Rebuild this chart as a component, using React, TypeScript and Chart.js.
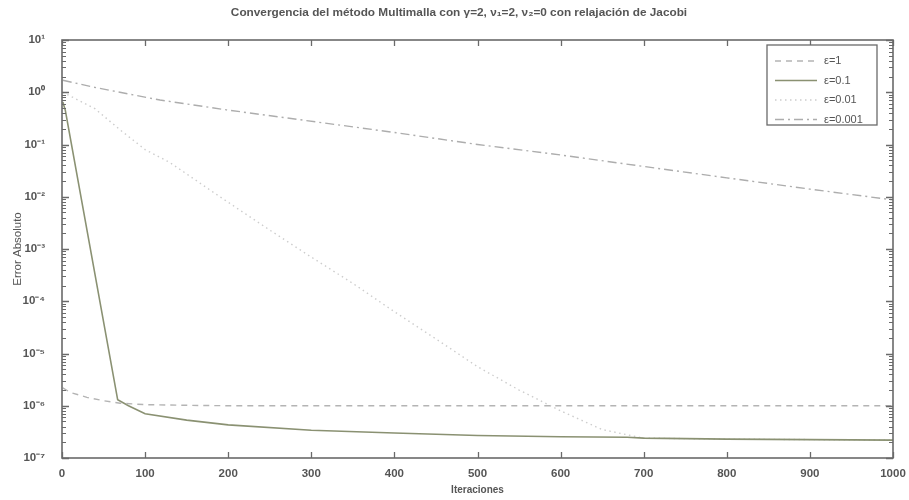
import React, { useEffect, useRef } from "react";
import { Chart, registerables } from "chart.js";

Chart.register(...registerables);

const TITLE = "Convergencia del método Multimalla con γ=2, ν₁=2, ν₂=0 con relajación de Jacobi";
const X_TITLE = "Iteraciones";
const Y_TITLE = "Error Absoluto";

const xTickValues = [0, 100, 200, 300, 400, 500, 600, 700, 800, 900, 1000];
const yTickValues = [1e-7, 1e-6, 1e-5, 1e-4, 1e-3, 1e-2, 1e-1, 1, 10];
const yTickLabels = ["10⁻⁷", "10⁻⁶", "10⁻⁵", "10⁻⁴", "10⁻³", "10⁻²", "10⁻¹", "10⁰", "10¹"];

const seriesLabels = ["ε=1", "ε=0.1", "ε=0.01", "ε=0.001"];

// ε=1 (dashed)
const eps1X = [1, 10, 30, 50, 70, 100, 150, 200, 300, 400, 500, 600, 700, 800, 900, 1000];
const eps1Y = [2.2e-6, 1.8e-6, 1.45e-6, 1.25e-6, 1.12e-6, 1.05e-6, 1.02e-6, 1.0e-6, 1.0e-6, 1.0e-6, 1.0e-6, 1.0e-6, 1.0e-6, 1.0e-6, 1.0e-6, 1.0e-6];

// ε=0.1 (solid)
const eps01X = [1, 4, 67, 80, 100, 150, 200, 300, 400, 500, 600, 680, 700, 800, 900, 1000];
const eps01Y = [0.65, 0.45, 1.3e-6, 1.0e-6, 7.0e-7, 5.3e-7, 4.3e-7, 3.4e-7, 3.0e-7, 2.7e-7, 2.55e-7, 2.5e-7, 2.4e-7, 2.3e-7, 2.25e-7, 2.2e-7];

// ε=0.01 (dotted)
const eps001X = [1, 20, 40, 70, 100, 130, 190, 250, 300, 350, 400, 450, 500, 550, 600, 650, 700, 800, 900, 1000];
const eps001Y = [1.0, 0.7, 0.48, 0.19, 0.08, 0.045, 0.01, 2.3e-3, 7e-4, 2.2e-4, 6.3e-5, 1.9e-5, 5.6e-6, 2.0e-6, 8e-7, 3.5e-7, 2.4e-7, 2.3e-7, 2.25e-7, 2.2e-7];

// ε=0.001 (dash-dot)
const eps0001X = [1, 37, 118, 198, 314, 400, 500, 600, 700, 800, 900, 1000];
const eps0001Y = [1.7, 1.26, 0.71, 0.46, 0.26, 0.17, 0.1, 0.063, 0.038, 0.023, 0.014, 0.0087];

const seriesColors = ["#b4b4b4", "#8a9172", "#cdcdcd", "#adadad"];
const seriesDashes = [[6, 5], [], [1.5, 3.5], [9, 4, 2, 4]];

const TEXT = "#555555";
const AXIS = "#6a6a6a";
const FONT = "'Liberation Sans', Arial, sans-serif";

const toPoints = (xs: number[], ys: number[]) => xs.map((x, i) => ({ x, y: ys[i] }));

const framePlugin = {
  id: "matlabFrame",
  afterDraw(chart: any) {
    const { ctx, chartArea } = chart;
    const { left, right, top, bottom } = chartArea;
    const xs = chart.scales.x;
    const ys = chart.scales.y;
    ctx.save();
    // title
    ctx.fillStyle = TEXT;
    ctx.font = `bold 11.8px ${FONT}`;
    ctx.textAlign = "center";
    ctx.textBaseline = "middle";
    ctx.fillText(TITLE, 459, 13);

    ctx.strokeStyle = AXIS;
    ctx.lineWidth = 1.3;
    ctx.setLineDash([]);
    ctx.beginPath();
    for (const v of xTickValues) {
      const p = Math.round(xs.getPixelForValue(v)) + 0.5;
      ctx.moveTo(p, bottom);
      ctx.lineTo(p, bottom - 6);
      ctx.moveTo(p, top);
      ctx.lineTo(p, top + 6);
    }
    for (const v of yTickValues) {
      const p = Math.round(ys.getPixelForValue(v)) + 0.5;
      ctx.moveTo(left, p);
      ctx.lineTo(left + 7, p);
      ctx.moveTo(right, p);
      ctx.lineTo(right - 7, p);
    }
    ctx.stroke();
    ctx.lineWidth = 1;
    ctx.beginPath();
    for (let k = 0; k < yTickValues.length - 1; k++) {
      for (let m = 2; m <= 9; m++) {
        const p = Math.round(ys.getPixelForValue(m * yTickValues[k])) + 0.5;
        ctx.moveTo(left, p);
        ctx.lineTo(left + 4, p);
        ctx.moveTo(right, p);
        ctx.lineTo(right - 4, p);
      }
    }
    ctx.stroke();
    ctx.lineWidth = 1.6;
    ctx.strokeRect(left, top, right - left, bottom - top);

    // legend
    const bx = 767, by = 45, bw = 110, bh = 80;
    ctx.fillStyle = "#ffffff";
    ctx.fillRect(bx, by, bw, bh);
    ctx.lineWidth = 1.3;
    ctx.strokeStyle = AXIS;
    ctx.strokeRect(bx, by, bw, bh);
    chart.data.datasets.forEach((ds: any, i: number) => {
      const yy = by + 16 + i * 19.5;
      ctx.strokeStyle = ds.borderColor;
      ctx.lineWidth = ds.borderWidth;
      ctx.setLineDash(ds.borderDash || []);
      ctx.beginPath();
      ctx.moveTo(bx + 8, yy);
      ctx.lineTo(bx + 50, yy);
      ctx.stroke();
      ctx.setLineDash([]);
      ctx.fillStyle = TEXT;
      ctx.font = `11px ${FONT}`;
      ctx.textAlign = "left";
      ctx.textBaseline = "middle";
      ctx.fillText(ds.label, bx + 57, yy);
    });
    ctx.restore();
  },
};

export default function App() {
  const canvasRef = useRef<HTMLCanvasElement | null>(null);

  useEffect(() => {
    if (!canvasRef.current) return;
    const xsList = [eps1X, eps01X, eps001X, eps0001X];
    const ysList = [eps1Y, eps01Y, eps001Y, eps0001Y];
    const chart = new Chart(canvasRef.current, {
      type: "line",
      data: {
        datasets: seriesLabels.map((label, i) => ({
          label,
          data: toPoints(xsList[i], ysList[i]),
          borderColor: seriesColors[i],
          borderWidth: i === 1 ? 1.6 : 1.4,
          borderDash: seriesDashes[i],
          pointRadius: 0,
          tension: 0,
          fill: false,
        })),
      },
      options: {
        animation: false,
        responsive: false,
        maintainAspectRatio: false,
        layout: { padding: { left: 8, right: 16, top: 40, bottom: 0 } },
        plugins: {
          legend: { display: false },
          title: { display: false },
          tooltip: { enabled: false },
        },
        scales: {
          x: {
            type: "linear",
            min: 0,
            max: 1000,
            grid: { display: false },
            border: { display: false },
            afterBuildTicks: (scale: any) => {
              scale.ticks = xTickValues.map((v) => ({ value: v }));
            },
            afterFit: (scale: any) => {
              scale.height = 42;
            },
            ticks: {
              color: TEXT,
              font: { family: FONT, size: 11.5, weight: "bold" },
              padding: 1,
              maxRotation: 0,
              autoSkip: false,
              callback: (v: any) => String(v),
            },
            title: {
              display: true,
              text: X_TITLE,
              color: TEXT,
              font: { family: FONT, size: 10, weight: "bold" },
              padding: { top: 0, bottom: 4 },
            },
          },
          y: {
            type: "logarithmic",
            min: 1e-7,
            max: 10,
            grid: { display: false },
            border: { display: false },
            afterBuildTicks: (scale: any) => {
              scale.ticks = yTickValues.map((v) => ({ value: v }));
            },
            afterFit: (scale: any) => {
              scale.width = 54;
            },
            ticks: {
              color: TEXT,
              font: { family: FONT, size: 11.5, weight: "bold" },
              padding: 9,
              autoSkip: false,
              callback: (v: any) => {
                const idx = yTickValues.findIndex((t) => Math.abs(Math.log10(t) - Math.log10(v)) < 1e-6);
                return idx >= 0 ? yTickLabels[idx] : "";
              },
            },
            title: {
              display: true,
              text: Y_TITLE,
              color: TEXT,
              font: { family: FONT, size: 11.5 },
              padding: { top: 3, bottom: 0 },
            },
          },
        },
      },
      plugins: [framePlugin],
    });
    return () => chart.destroy();
  }, []);

  return (
    <div style={{ position: "fixed", left: 0, top: 0, width: 909, height: 500, background: "#fff" }}>
      <canvas ref={canvasRef} width={909} height={500} style={{ width: 909, height: 500, display: "block" }} />
    </div>
  );
}
